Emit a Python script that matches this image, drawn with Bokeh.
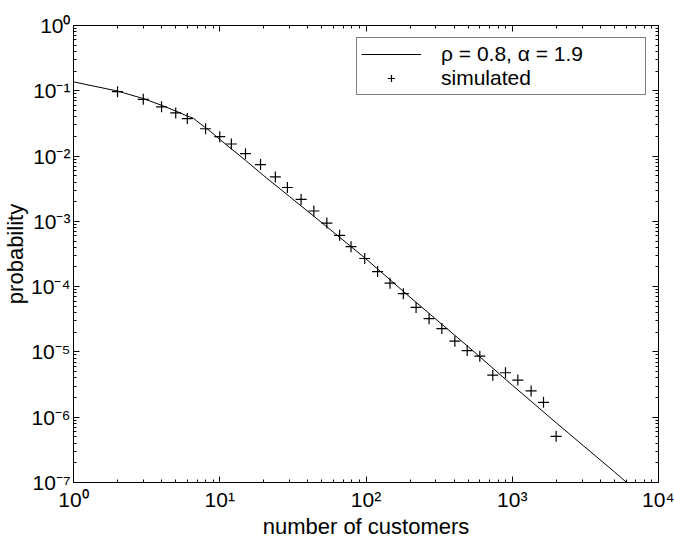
from bokeh.plotting import figure
from bokeh.models import (LogAxis, FixedTicker, CustomJSTickFormatter, Legend, LegendItem, Range1d, LogScale)
from bokeh.embed import file_html
from bokeh.resources import INLINE

# Theoretical curve (rho = 0.8, alpha = 1.9)
line_x = [1, 2, 3, 4, 5, 6, 6.6, 7.4, 8.6, 10, 15, 20, 30, 50, 78, 100, 200, 500, 1000, 2000, 5000, 10000]
line_y = [0.137, 0.099, 0.076, 0.060, 0.049, 0.041, 0.038, 0.031, 0.024, 0.0180, 0.0086, 0.0050,
          0.0024, 0.00095, 0.00042, 0.000266, 6.9e-5, 1.2e-5, 3.1e-6, 8.2e-7, 1.45e-7, 3.8e-8]

# Simulated points
sim_x = [2, 3, 4, 5, 6, 8, 10, 12, 15, 19, 24, 29, 36, 44, 54, 66, 79, 98, 120, 146, 180, 220,
         270, 330, 405, 492, 600, 736, 899, 1092, 1346, 1636, 1996]
sim_y = [0.097, 0.074, 0.0567, 0.0458, 0.0375, 0.0262, 0.0198, 0.0153, 0.0109, 0.0074, 0.0048,
         0.0033, 0.00217, 0.00144, 0.00094, 0.00061, 0.00041, 0.00027, 0.00017, 0.000113, 7.8e-5,
         4.8e-5, 3.23e-5, 2.28e-5, 1.46e-5, 1.05e-5, 8.6e-6, 4.4e-6, 4.8e-6, 3.7e-6, 2.53e-6,
         1.69e-6, 5.1e-7]

x_decades = [1, 10, 100, 1000, 10000]
y_decades = [1e-7, 1e-6, 1e-5, 1e-4, 1e-3, 1e-2, 1e-1, 1]

FONT = "Liberation Sans"

p = figure(width=674, height=541, x_axis_type=None, y_axis_type=None,
           x_range=Range1d(1, 10000), y_range=Range1d(1e-7, 1),
           output_backend="svg", toolbar_location=None,
           min_border_left=73, min_border_right=16, min_border_top=25, min_border_bottom=57)
p.x_scale = LogScale()
p.y_scale = LogScale()
p.xgrid.visible = False
p.ygrid.visible = False
p.outline_line_color = None
p.background_fill_color = "white"
p.border_fill_color = "white"

x_minor = [k * d for d in x_decades[:-1] for k in range(2, 10)]
y_minor = [k * d for d in y_decades[:-1] for k in range(2, 10)]

sup_code = """
const e = Math.round(Math.log10(tick));
const sup = {'-':'\u207b','0':'\u2070','1':'\u00b9','2':'\u00b2','3':'\u00b3','4':'\u2074','5':'\u2075','6':'\u2076','7':'\u2077','8':'\u2078','9':'\u2079'};
return '10' + String(e).split('').map(c => sup[c]).join('');
"""

def style(ax, labels=True):
    ax.major_tick_in = 6
    ax.major_tick_out = 0
    ax.minor_tick_in = 3
    ax.minor_tick_out = 0
    ax.axis_line_color = "black"
    ax.axis_line_width = 1
    ax.major_tick_line_color = "black"
    ax.minor_tick_line_color = "black"
    if labels:
        ax.formatter = CustomJSTickFormatter(code=sup_code)
        ax.major_label_text_font = FONT
        ax.major_label_text_font_size = "21px"
        ax.major_label_text_color = "black"
        ax.axis_label_text_font = FONT
        ax.axis_label_text_font_size = "22px"
        ax.axis_label_text_font_style = "normal"
        ax.axis_label_text_color = "black"
    else:
        ax.formatter = CustomJSTickFormatter(code="return '';")
        ax.major_label_text_font_size = "0px"
        ax.major_label_standoff = 0

xb = LogAxis(ticker=FixedTicker(ticks=x_decades, minor_ticks=x_minor), axis_label="number of customers")
style(xb)
xb.major_label_standoff = 5
xb.axis_label_standoff = 0
p.add_layout(xb, "below")

yl = LogAxis(ticker=FixedTicker(ticks=y_decades, minor_ticks=y_minor), axis_label="probability")
style(yl)
yl.major_label_standoff = 3
yl.axis_label_standoff = 0
p.add_layout(yl, "left")

xt = LogAxis(ticker=FixedTicker(ticks=x_decades, minor_ticks=x_minor))
style(xt, labels=False)
p.add_layout(xt, "above")

yr = LogAxis(ticker=FixedTicker(ticks=y_decades, minor_ticks=y_minor))
style(yr, labels=False)
p.add_layout(yr, "right")

r_line = p.line(line_x, line_y, line_color="black", line_width=1)
r_sim = p.scatter(sim_x, sim_y, marker="cross", size=11, line_color="black", line_width=1.2)

legend = Legend(items=[LegendItem(label="\u03c1 = 0.8, \u03b1 = 1.9", renderers=[r_line]),
                       LegendItem(label="simulated", renderers=[r_sim])],
                location="top_right", margin=12, padding=4, spacing=0,
                glyph_width=60, glyph_height=18, label_height=18, label_width=200,
                label_standoff=20,
                label_text_font=FONT, label_text_font_size="21px", label_text_color="black",
                border_line_color="black", border_line_width=1.3, background_fill_alpha=1)
p.add_layout(legend, "center")

open("out.html", "w").write(file_html(p, INLINE))
